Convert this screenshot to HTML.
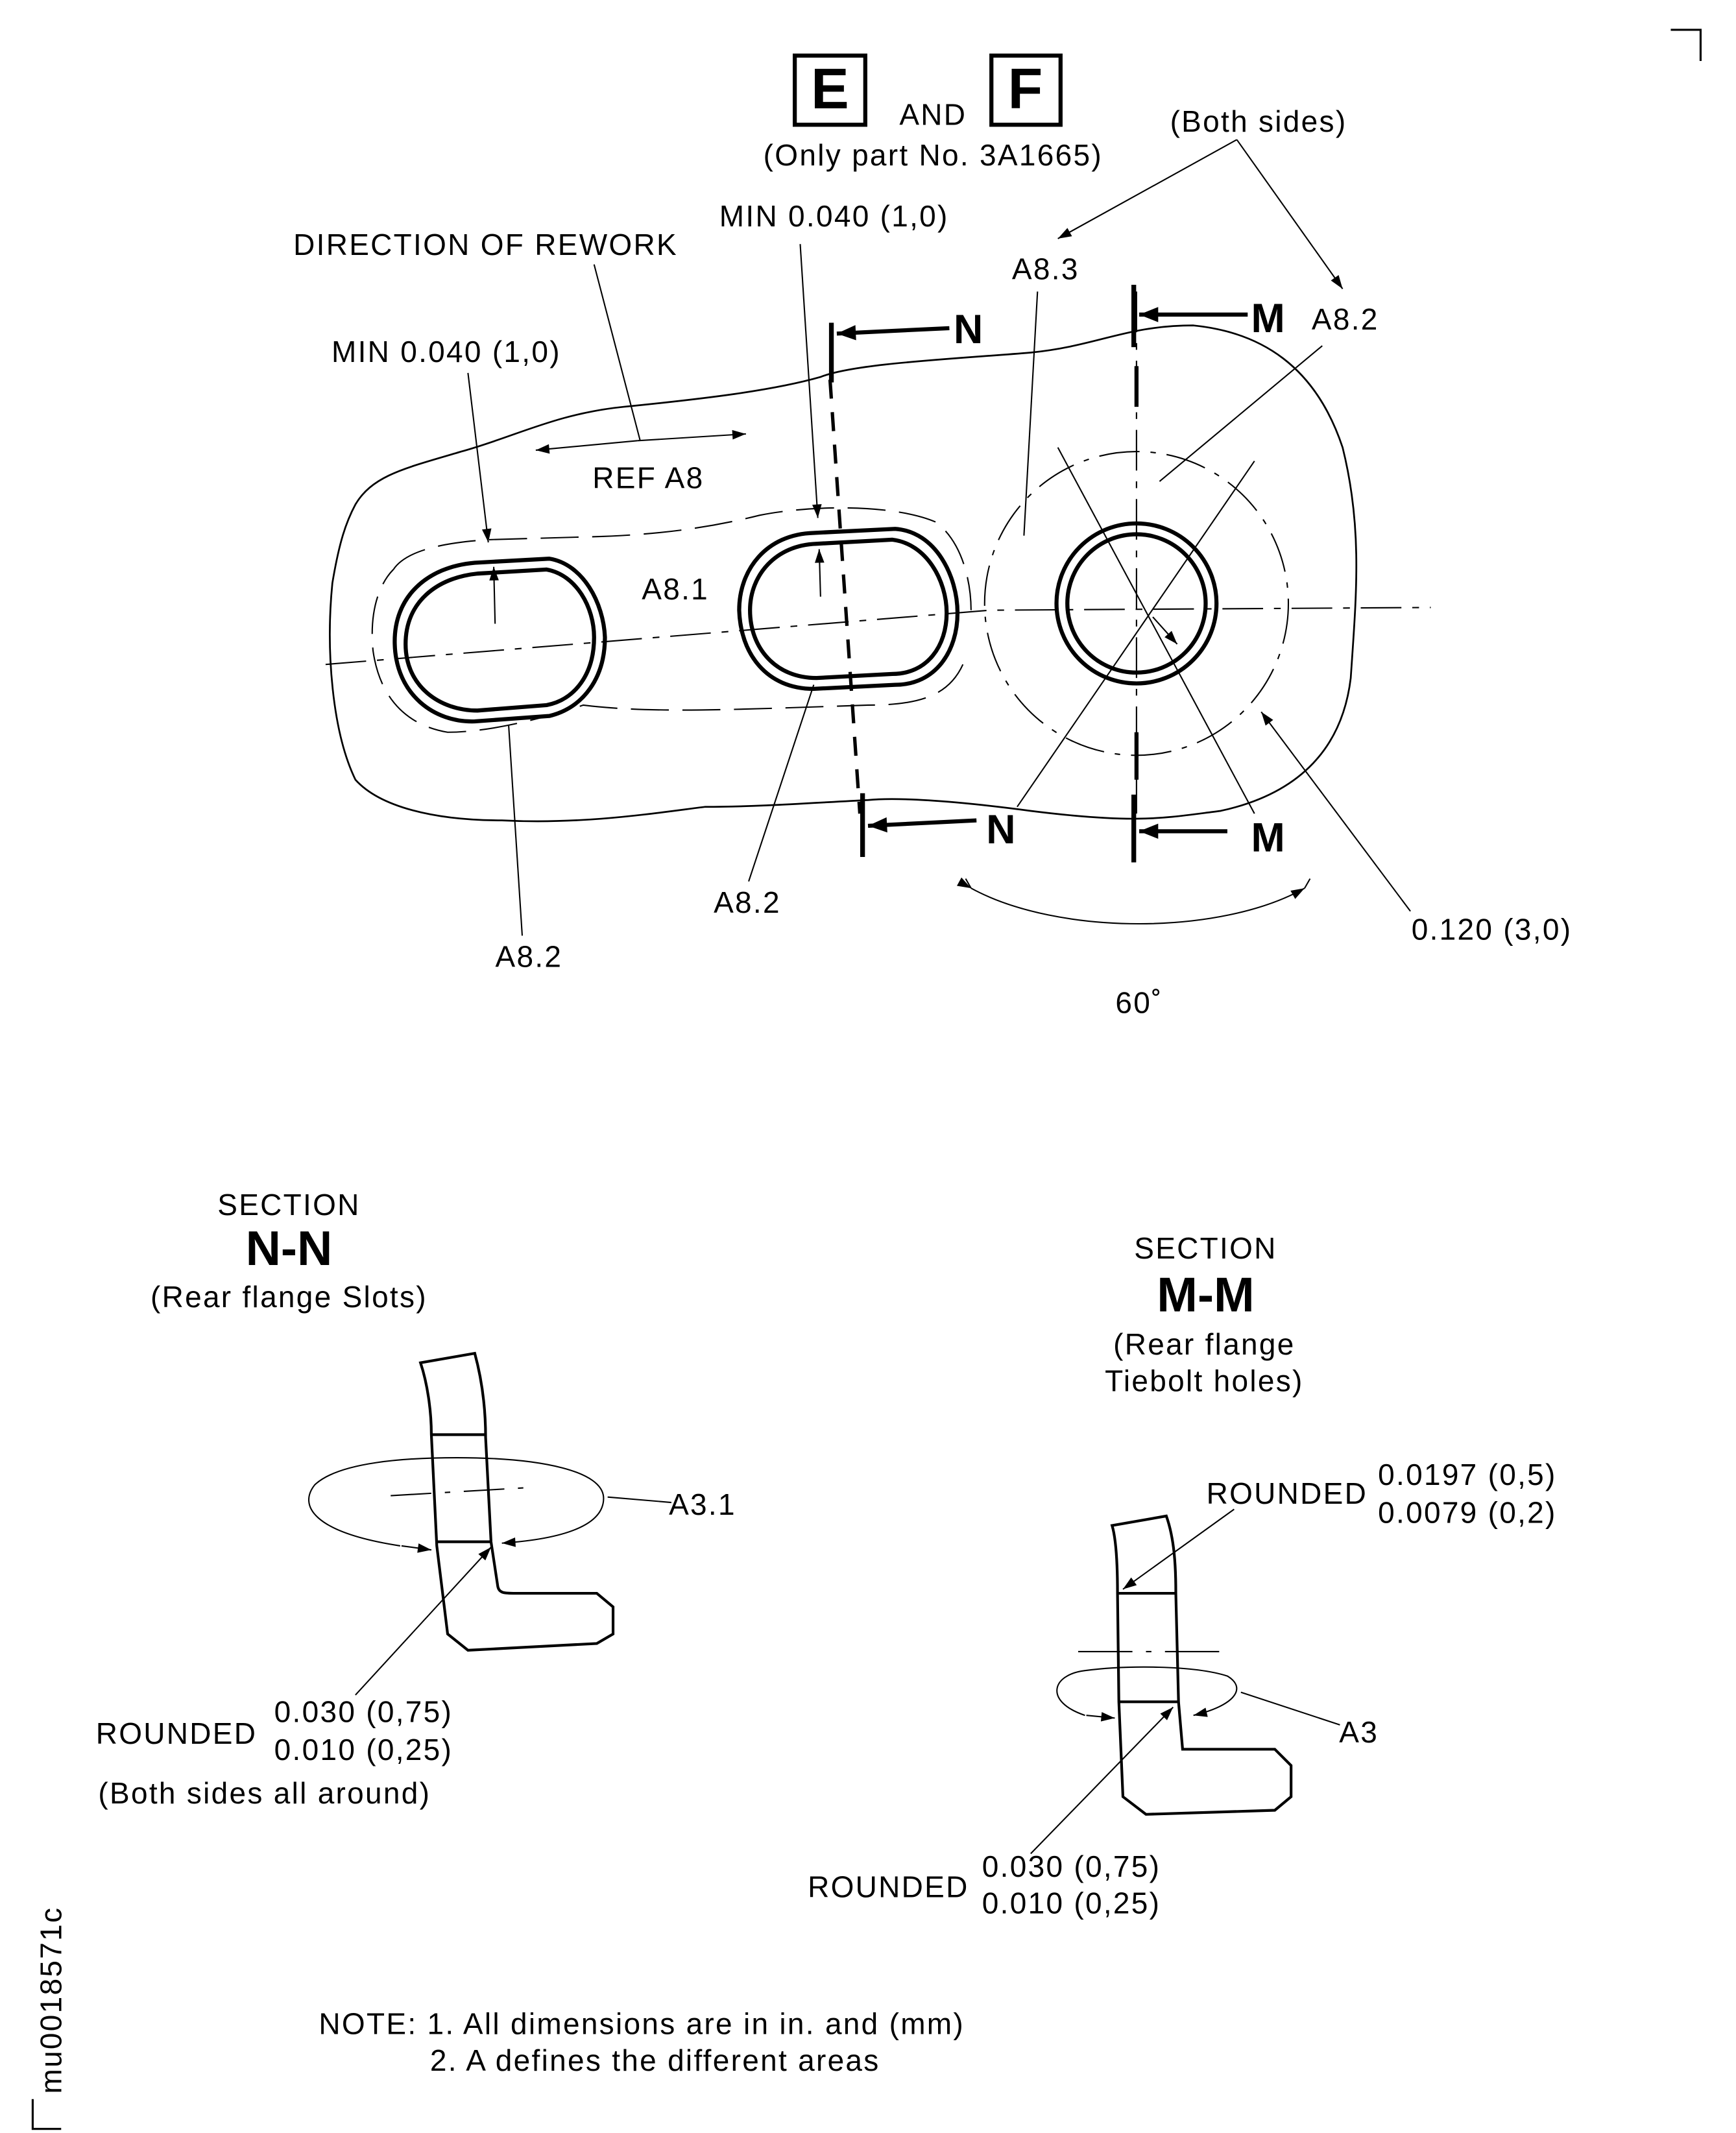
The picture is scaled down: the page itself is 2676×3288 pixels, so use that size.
<!DOCTYPE html>
<html><head><meta charset="utf-8"><style>
html,body{margin:0;padding:0;background:#fff}
svg{display:block}
text{font-family:"Liberation Sans",sans-serif;fill:#000}
</style></head><body>
<svg width="2676" height="3288" viewBox="0 0 1280 1573" xmlns="http://www.w3.org/2000/svg">
<defs>
<marker id="a" viewBox="0 0 10 10" refX="10" refY="5" markerWidth="14" markerHeight="10" markerUnits="userSpaceOnUse" orient="auto"><path d="M0,1.5 L10,5 L0,8.5z" fill="#000"/></marker>
<marker id="b" viewBox="0 0 10 10" refX="10" refY="5" markerWidth="24" markerHeight="14" markerUnits="userSpaceOnUse" orient="auto"><path d="M0,1 L10,5 L0,9z" fill="#000"/></marker>
</defs>
<g fill="none" stroke="#000">
<path d="M1232,22 H1254 V45" stroke-width="1.5"/>
<path d="M24,1548 V1570 H45" stroke-width="1.5"/>
<rect x="586" y="41" width="52" height="51" stroke-width="3"/>
<rect x="731" y="41" width="51" height="51" stroke-width="3"/>
<path d="M262,372 C275,350 300,345 340,333 C380,322 410,305 460,300 C520,294 570,288 605,278 C630,268 700,265 760,260 C810,255 830,240 880,240 C930,245 970,270 990,330 C1005,390 1000,440 996,500 C990,550 960,585 900,598 C860,603 840,608 760,598 C700,590 660,588 640,590 C600,592 560,595 520,595 C480,600 430,608 370,605 C320,605 280,595 262,575 C245,540 240,480 245,430 C250,400 255,385 262,372 Z" stroke-width="1.3"/>
<path d="M350,415 L405,412 C430,416 445,445 446,470 C446,500 430,522 405,528 L350,532 C320,533 292,512 291,475 C290,440 315,418 350,415 Z" stroke-width="3"/>
<path d="M352,423 L403,420 C425,424 438,448 438,470 C438,497 424,516 403,520 L352,524 C324,524 299,506 299,475 C299,444 322,426 352,423 Z" stroke-width="3"/>
<path d="M600,393 L660,390 C690,392 706,425 706,452 C706,480 690,505 660,505 L600,508 C565,508 546,482 545,450 C545,420 565,394 600,393 Z" stroke-width="3"/>
<path d="M602,401 L658,398 C683,401 698,428 698,452 C698,476 684,497 658,497 L602,500 C572,500 553,478 553,450 C553,424 572,402 602,401 Z" stroke-width="3"/>
<circle cx="838" cy="445" r="59" stroke-width="3"/>
<circle cx="838" cy="445" r="51" stroke-width="3"/>
<circle cx="838" cy="445" r="112" stroke-width="1" stroke-dasharray="30,8,4,8"/>
<path d="M290,420 C300,405 330,400 360,398 L430,396 C480,395 520,390 560,380 C600,372 660,372 690,385 C710,400 716,430 716,450 M710,490 C700,512 680,520 640,520 L580,522 C520,524 470,525 430,520 C400,530 360,540 330,540 C300,535 280,515 275,480 C272,450 280,430 290,420" stroke-width="1" stroke-dasharray="28,10"/>
<path d="M240,490 L730,450 L1055,448" stroke-width="1" stroke-dasharray="30,8,5,8"/>
<path d="M838,215 V600" stroke-width="1" stroke-dasharray="30,8,5,8"/>
<path d="M612,280 L634,600" stroke-width="2.5" stroke-dasharray="14,10"/>
<path d="M838,270 V300" stroke-width="3"/>
<path d="M838,540 V575" stroke-width="3"/>
<path d="M780,330 L925,600 M925,340 L750,595" stroke-width="1"/>
<path d="M716,655 C780,690 900,690 962,655" stroke-width="1" marker-start="url(#a)" marker-end="url(#a)"/>
<path d="M716,655 L712,648 M962,655 L966,648" stroke-width="1"/>
<path d="M1040,672 L930,525" stroke-width="1" marker-end="url(#a)"/>
<path d="M850,455 L868,475" stroke-width="1" marker-end="url(#a)"/>
<path d="M613,238 V282 M636,585 V632 M836,210 V256 M836,586 V636" stroke-width="3.5"/>
<path d="M700,242 L617,246" stroke-width="3" marker-end="url(#b)"/>
<path d="M720,605 L640,609" stroke-width="3" marker-end="url(#b)"/>
<path d="M920,232 L840,232" stroke-width="3" marker-end="url(#b)"/>
<path d="M905,613 L840,613" stroke-width="3" marker-end="url(#b)"/>
<path d="M912,103 L780,176" stroke-width="1" marker-end="url(#a)"/>
<path d="M912,103 L990,213" stroke-width="1" marker-end="url(#a)"/>
<path d="M438,195 L472,325" stroke-width="1"/>
<path d="M470,325 L395,332" stroke-width="1" marker-end="url(#a)"/>
<path d="M470,325 L550,320" stroke-width="1" marker-end="url(#a)"/>
<path d="M345,275 L360,400" stroke-width="1" marker-end="url(#a)"/>
<path d="M365,460 L364,418" stroke-width="1" marker-end="url(#a)"/>
<path d="M590,180 L603,382" stroke-width="1" marker-end="url(#a)"/>
<path d="M605,440 L604,405" stroke-width="1" marker-end="url(#a)"/>
<path d="M765,215 L755,395" stroke-width="1"/>
<path d="M975,255 L855,355" stroke-width="1"/>
<path d="M552,650 L600,505" stroke-width="1"/>
<path d="M385,690 L375,535" stroke-width="1"/>
<path d="M310,1005 L350,998 C356,1020 358,1040 358,1060 L362,1137 L367,1170 C368,1175 372,1175 380,1175 L440,1175 L452,1185 L452,1205 L440,1212 L345,1217 L330,1205 L322,1140 L318,1058 C318,1040 315,1020 310,1005 Z" stroke-width="2"/>
<path d="M318,1058 L358,1058 M322,1137 L362,1137" stroke-width="2"/>
<path d="M288,1103 L390,1097" stroke-width="1" stroke-dasharray="30,10,4,10"/>
<path d="M295,1140 C230,1130 220,1110 232,1095 C250,1078 300,1075 337,1075 C400,1075 445,1085 445,1105 C445,1125 415,1135 370,1138" stroke-width="1" marker-end="url(#a)"/>
<path d="M296,1140 L318,1143" stroke-width="1" marker-end="url(#a)"/>
<path d="M495,1108 L448,1104" stroke-width="1"/>
<path d="M262,1250 L362,1141" stroke-width="1" marker-end="url(#a)"/>
<path d="M820,1125 L860,1118 C866,1135 867,1155 867,1175 L869,1255 L872,1290 L940,1290 L952,1302 L952,1325 L940,1335 L845,1338 L828,1325 L825,1255 L824,1175 C824,1155 823,1135 820,1125 Z" stroke-width="2"/>
<path d="M824,1175 L867,1175 M825,1255 L869,1255" stroke-width="2"/>
<path d="M795,1218 L900,1218" stroke-width="1" stroke-dasharray="40,10,4,10"/>
<path d="M800,1265 C770,1255 775,1235 800,1232 C830,1228 880,1228 905,1236 C920,1245 910,1258 880,1265" stroke-width="1" marker-end="url(#a)"/>
<path d="M801,1265 L822,1267" stroke-width="1" marker-end="url(#a)"/>
<path d="M988,1272 L915,1248" stroke-width="1"/>
<path d="M910,1113 L828,1172" stroke-width="1" marker-end="url(#a)"/>
<path d="M760,1367 L865,1259" stroke-width="1" marker-end="url(#a)"/>
</g>
<g font-size="22" letter-spacing="1.1">
<text x="612" y="80" font-size="42" font-weight="bold" text-anchor="middle" letter-spacing="0">E</text>
<text x="756" y="80" font-size="42" font-weight="bold" text-anchor="middle" letter-spacing="0">F</text>
<text x="688" y="92" text-anchor="middle">AND</text>
<text x="688" y="122" text-anchor="middle">(Only part No. 3A1665)</text>
<text x="928" y="97" text-anchor="middle">(Both sides)</text>
<text x="615" y="167" text-anchor="middle">MIN 0.040 (1,0)</text>
<text x="358" y="188" text-anchor="middle">DIRECTION OF REWORK</text>
<text x="771" y="206" text-anchor="middle">A8.3</text>
<text x="992" y="243" text-anchor="middle">A8.2</text>
<text x="329" y="267" text-anchor="middle">MIN 0.040 (1,0)</text>
<text x="714" y="253" font-size="30" font-weight="bold" text-anchor="middle" letter-spacing="0">N</text>
<text x="935" y="245" font-size="30" font-weight="bold" text-anchor="middle" letter-spacing="0">M</text>
<text x="738" y="622" font-size="30" font-weight="bold" text-anchor="middle" letter-spacing="0">N</text>
<text x="935" y="628" font-size="30" font-weight="bold" text-anchor="middle" letter-spacing="0">M</text>
<text x="478" y="360" text-anchor="middle">REF A8</text>
<text x="498" y="442" text-anchor="middle">A8.1</text>
<text x="551" y="673" text-anchor="middle">A8.2</text>
<text x="390" y="713" text-anchor="middle">A8.2</text>
<text x="1100" y="693" text-anchor="middle">0.120 (3,0)</text>
<text x="840" y="747" text-anchor="middle">60˚</text>
<text x="213" y="896" text-anchor="middle">SECTION</text>
<text x="213" y="933" font-size="36" font-weight="bold" text-anchor="middle" letter-spacing="0">N-N</text>
<text x="213" y="964" text-anchor="middle">(Rear flange Slots)</text>
<text x="889" y="928" text-anchor="middle">SECTION</text>
<text x="889" y="967" font-size="36" font-weight="bold" text-anchor="middle" letter-spacing="0">M-M</text>
<text x="888" y="999" text-anchor="middle">(Rear flange</text>
<text x="888" y="1026" text-anchor="middle">Tiebolt holes)</text>
<text x="518" y="1117" text-anchor="middle">A3.1</text>
<text x="1002" y="1285" text-anchor="middle">A3</text>
<text x="130" y="1286" text-anchor="middle">ROUNDED</text>
<text x="268" y="1270" text-anchor="middle">0.030 (0,75)</text>
<text x="268" y="1298" text-anchor="middle">0.010 (0,25)</text>
<text x="195" y="1330" text-anchor="middle">(Both sides all around)</text>
<text x="949" y="1109" text-anchor="middle">ROUNDED</text>
<text x="1082" y="1095" text-anchor="middle">0.0197 (0,5)</text>
<text x="1082" y="1123" text-anchor="middle">0.0079 (0,2)</text>
<text x="655" y="1399" text-anchor="middle">ROUNDED</text>
<text x="790" y="1384" text-anchor="middle">0.030 (0,75)</text>
<text x="790" y="1411" text-anchor="middle">0.010 (0,25)</text>
<text x="235" y="1500">NOTE: 1. All dimensions are in in. and (mm)</text>
<text x="317" y="1527">2. A defines the different areas</text>
<text x="0" y="0" transform="translate(45,1475) rotate(-90)" text-anchor="middle">mu0018571c</text>
</g>
</svg>
</body></html>
